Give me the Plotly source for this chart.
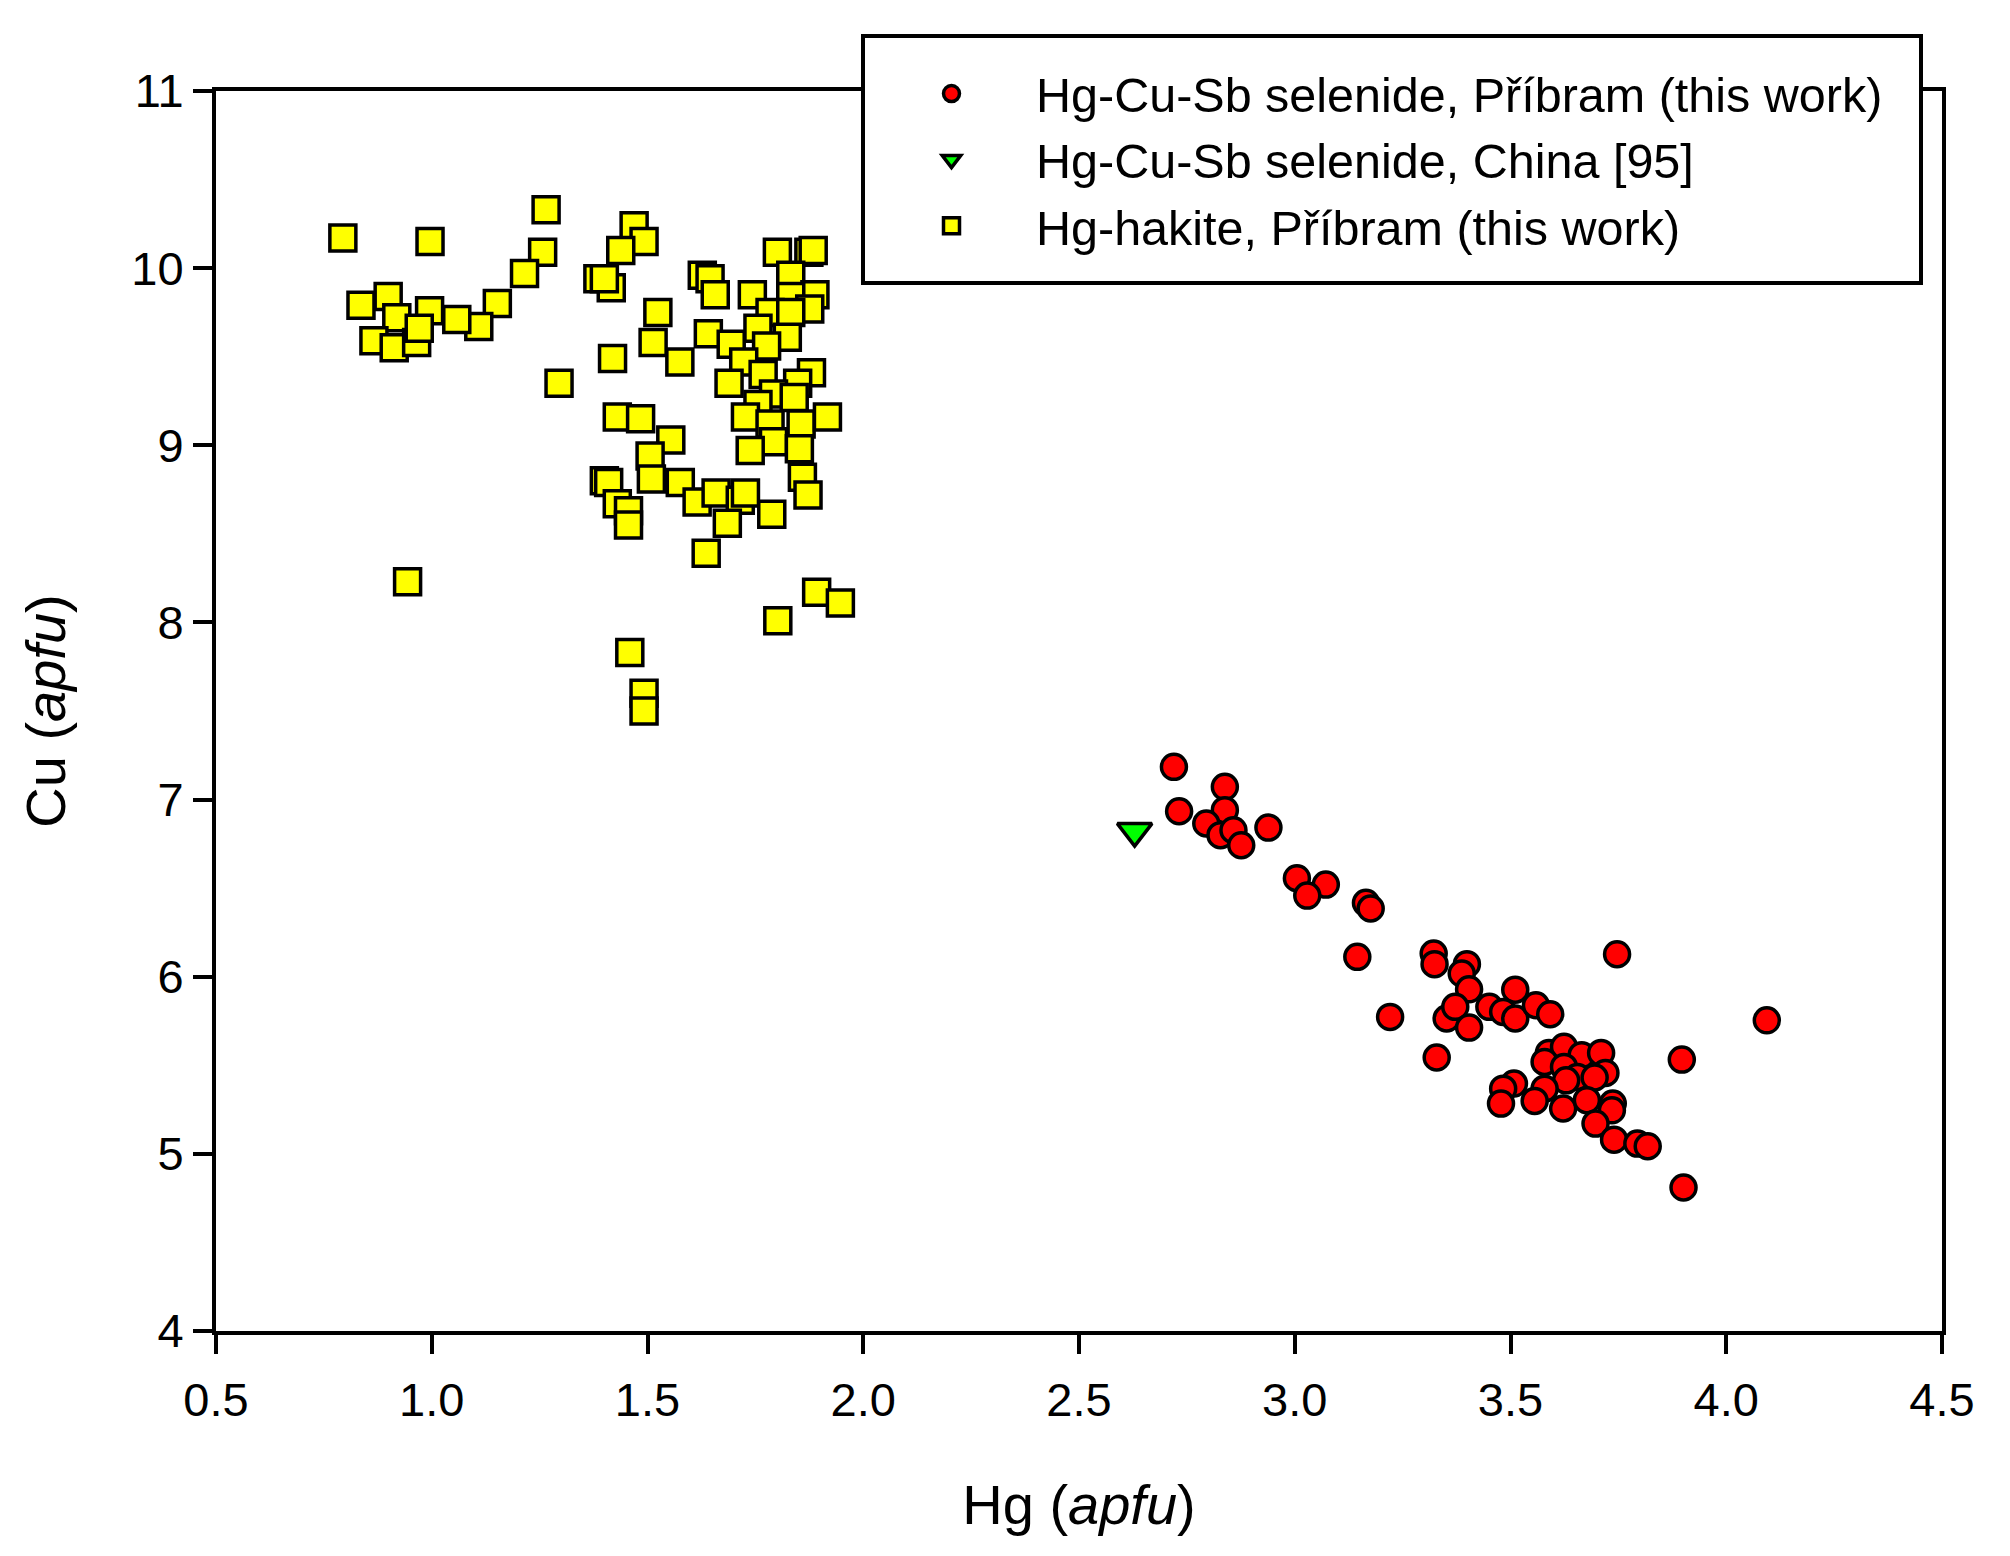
import plotly.graph_objects as go

# ---------------- data ----------------
sel_pribram_hg = [2.720, 2.838, 2.732, 2.838, 2.795, 2.828, 2.858, 2.876, 2.939,
                  3.005, 3.072, 3.029, 3.165, 3.176, 3.145, 3.322, 3.324, 3.399,
                  3.387, 3.404, 3.511, 3.747, 3.221, 3.352, 3.372, 3.404, 3.451,
                  3.483, 3.511, 3.559, 3.592, 4.094, 3.329, 3.589, 3.624, 3.665,
                  3.710, 3.897, 3.579, 3.624, 3.720, 3.655, 3.695, 3.629, 3.579,
                  3.508, 3.483, 3.478, 3.556, 3.622, 3.677, 3.737, 3.735, 3.697,
                  3.740, 3.794, 3.818, 3.901]
sel_pribram_cu = [7.185, 7.072, 6.934, 6.940, 6.865, 6.799, 6.827, 6.742, 6.842,
                  6.556, 6.520, 6.458, 6.417, 6.385, 6.112, 6.131, 6.071, 6.071,
                  6.018, 5.929, 5.927, 6.127, 5.773, 5.764, 5.830, 5.713, 5.830,
                  5.801, 5.764, 5.839, 5.788, 5.754, 5.544, 5.570, 5.604, 5.557,
                  5.570, 5.532, 5.519, 5.491, 5.457, 5.434, 5.431, 5.415, 5.368,
                  5.397, 5.368, 5.284, 5.299, 5.256, 5.303, 5.284, 5.246, 5.171,
                  5.080, 5.058, 5.043, 4.810]

sel_china_hg = [2.629]
sel_china_cu = [6.822]

hakite_hg = [0.794, 0.996, 1.265, 1.257, 1.215, 1.152, 1.109, 1.058, 0.995, 0.899,
             0.836, 0.919, 0.866, 0.913, 0.965, 0.971, 1.295, 0.944,
             1.469, 1.492, 1.438, 1.385, 1.416, 1.400, 1.524, 1.513, 1.419, 1.575,
             1.641, 1.627, 1.645, 1.657, 1.430, 1.484, 1.554, 1.506, 1.509, 1.576,
             1.400, 1.410, 1.430, 1.456, 1.456, 1.615, 1.659, 1.715, 1.727, 1.685,
             1.788, 1.636, 1.459, 1.492, 1.492, 1.802, 1.892, 1.947,
             1.801, 1.874, 1.884, 1.743, 1.832, 1.888, 1.832, 1.876, 1.784, 1.832,
             1.756, 1.824, 1.694, 1.776, 1.723, 1.768, 1.689, 1.880, 1.848, 1.792,
             1.756, 1.840, 1.727, 1.784, 1.856, 1.917, 1.792, 1.852, 1.738, 1.859,
             1.872]
hakite_cu = [10.17, 10.15, 10.33, 10.09, 9.97, 9.80, 9.67, 9.71, 9.76, 9.84,
             9.79, 9.72, 9.59, 9.55, 9.58, 9.66, 9.35, 8.23,
             10.24, 10.15, 10.10, 9.94, 9.89, 9.94, 9.75, 9.58, 9.49, 9.47,
             9.63, 9.96, 9.94, 9.85, 9.16, 9.15, 9.03, 8.94, 8.81, 8.79,
             8.80, 8.79, 8.67, 8.63, 8.55, 8.68, 8.73, 8.69, 8.73, 8.56,
             8.61, 8.39, 7.83, 7.60, 7.50, 8.01, 8.17, 8.11,
             10.09, 10.09, 10.10, 9.85, 9.96, 9.85, 9.84, 9.77, 9.75, 9.75,
             9.66, 9.61, 9.57, 9.56, 9.47, 9.40, 9.35, 9.41, 9.35, 9.29,
             9.23, 9.27, 9.16, 9.12, 9.12, 9.16, 9.02, 8.98, 8.97, 8.82,
             8.72]

series_names = ["Hg-Cu-Sb selenide, Příbram (this work)",
                "Hg-Cu-Sb selenide, China [95]",
                "Hg-hakite, Příbram (this work)"]

x_ticks = [0.5, 1.0, 1.5, 2.0, 2.5, 3.0, 3.5, 4.0, 4.5]
y_ticks = [4, 5, 6, 7, 8, 9, 10, 11]

# ---------------- figure ----------------
FONT = "Arial, 'Liberation Sans', sans-serif"
W, H = 2010, 1556
ML, MR, MT, MB = 216, 68, 91, 225

fig = go.Figure()
fig.add_trace(go.Scatter(
    x=sel_pribram_hg, y=sel_pribram_cu, mode="markers", name=series_names[0],
    marker=dict(symbol="circle", size=25, color="#ff0000",
                line=dict(color="black", width=3.5))))
fig.add_trace(go.Scatter(
    x=sel_china_hg, y=sel_china_cu, mode="markers", name=series_names[1],
    marker=dict(symbol="triangle-down", size=30, color="#00ff00",
                line=dict(color="black", width=3.5))))
fig.add_trace(go.Scatter(
    x=hakite_hg, y=hakite_cu, mode="markers", name=series_names[2],
    marker=dict(symbol="square", size=26, color="#ffff00",
                line=dict(color="black", width=3.5))))

axis_common = dict(showgrid=False, zeroline=False, showline=True, linecolor="black",
                   linewidth=4, mirror=True, ticks="outside", ticklen=19, tickwidth=4,
                   tickcolor="black", tickfont=dict(family=FONT, size=47, color="black"))

fig.update_xaxes(range=[0.5, 4.5], tickvals=x_ticks,
                 ticktext=[f"{v:.1f}" for v in x_ticks], ticklabelstandoff=6,
                 title=dict(text="Hg (<i>apfu</i>)", font=dict(family=FONT, size=56, color="black"),
                            standoff=60),
                 **axis_common)
fig.update_yaxes(range=[4, 11], tickvals=y_ticks,
                 ticktext=[str(v) for v in y_ticks],
                 title=dict(text="Cu (<i>apfu</i>)", font=dict(family=FONT, size=56, color="black"),
                            standoff=49),
                 **axis_common)

pw, ph = W - ML - MR, H - MT - MB
# legend frame (paper coordinates computed from pixel layout)
bx0, bx1, by0, by1 = 863, 1921, 36, 283
fig.add_shape(type="rect", xref="paper", yref="paper",
              x0=(bx0 - ML) / pw, x1=(bx1 - ML) / pw,
              y0=(H - MB - by1) / ph, y1=(H - MB - by0) / ph,
              line=dict(color="black", width=4), fillcolor="white", layer="above")

fig.update_layout(
    width=W, height=H,
    margin=dict(l=ML, r=MR, t=MT, b=MB, pad=0),
    paper_bgcolor="white", plot_bgcolor="white",
    font=dict(family=FONT, color="black"),
    legend=dict(x=(867 - ML) / pw, y=(H - MB - 160) / ph, xanchor="left", yanchor="middle",
                bgcolor="rgba(0,0,0,0)", borderwidth=0,
                font=dict(family=FONT, size=48.5, color="black"),
                itemwidth=159, tracegroupgap=0),
    showlegend=True,
)

fig.write_html("out.html", config={"displayModeBar": False},
               post_script="document.body.style.margin='0';")
